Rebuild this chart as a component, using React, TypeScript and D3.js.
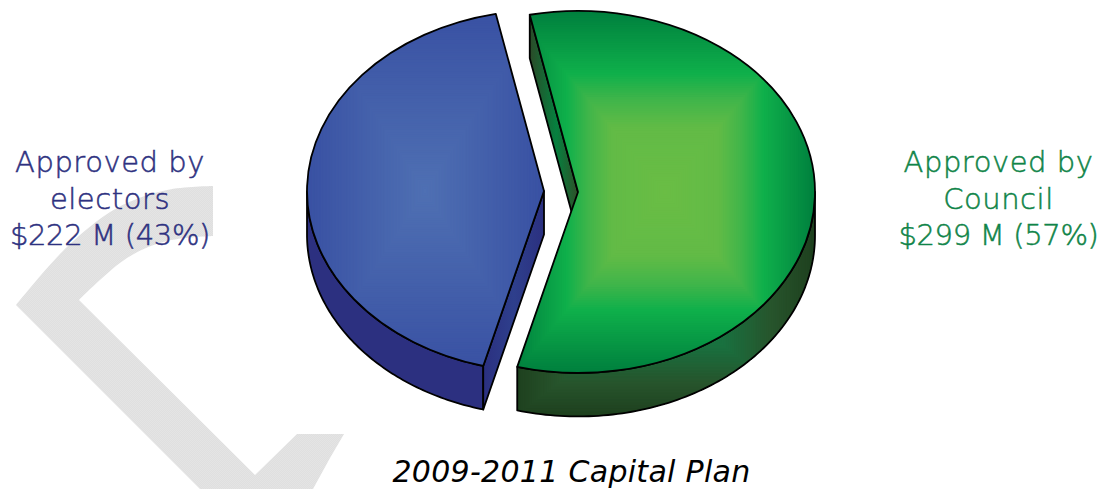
import React from "react";
import * as d3 from "d3";

// Capital plan funding, $ millions
const sources = ["Approved by Council", "Approved by electors"];
const amounts = [299, 222];
const shares = ["57%", "43%"];
const labelLines = [
  ["Approved by", "Council", "$299 M (57%)"],
  ["Approved by", "electors", "$222 M (43%)"],
];
const title = "2009-2011 Capital Plan";

const WIDTH = 1101;
const HEIGHT = 489;
const CX = 561;
const CY = 191.5;
const RX = 237;
const RY = 181;
const DEPTH = 43.5;
const EXPLODE = 17;
const FIRST_ANGLE = -0.205;
const LINE_TRACKING = [0.55, 0.55, -0.35];

const pie = d3
  .pie<number>()
  .sort(null)
  .startAngle(FIRST_ANGLE)
  .endAngle(FIRST_ANGLE + 2 * Math.PI);
const arcs = pie(amounts);
const topArc = d3.arc<d3.PieArcDatum<number>>().innerRadius(0).outerRadius(RX);
const outline = d3.line<[number, number]>();

// Backdrop emblem, a broad grey chevron running off the page
const emblemOuter: [number, number][] = [[16, 305], [67, 247], [117, 208], [167, 190], [213, 186]];
const emblemInner: [number, number][] = [[213, 236], [167, 241], [127, 258], [79, 300]];
const emblemLeg: [number, number][] = [[79, 300], [255, 475], [297, 434], [344, 434]];
const emblemFoot: [number, number][] = [[344, 434], [330, 458], [313, 489], [200, 489], [16, 305]];
const smooth = d3.line<[number, number]>().curve(d3.curveCatmullRom);

const greenTop = d3
  .scaleLinear<string>()
  .domain([0, 0.36, 0.52, 0.66, 1])
  .range(["#6abd45", "#62bb46", "#3fb54a", "#0fb04b", "#00803e"]);
const greenSide = d3
  .scaleLinear<string>()
  .domain([0, 0.4, 0.72, 1])
  .range(["#0a8040", "#19703f", "#27542c", "#1e401e"]);
const blueTop = d3.scaleLinear<string>().domain([0, 1]).range(["#4f70b3", "#3951a3"]);

const levels = d3.range(1, 0, -1 / 80);

function point(a: number, ox: number, oy: number, dz = 0): [number, number] {
  return [ox + RX * Math.sin(a), oy - RY * Math.cos(a) + dz];
}

// Curved rim of a slice between two pie angles, extruded downward
function rimPath(a0: number, a1: number, ox: number, oy: number): string {
  const ts = d3.range(0, 1.0001, 1 / 90).map((t) => a0 + (a1 - a0) * t);
  const upper = ts.map((a) => point(a, ox, oy));
  const lower = ts.map((a) => point(a, ox, oy, DEPTH)).reverse();
  return outline([...upper, ...lower])! + "Z";
}

// Flat cut face along a slice's starting radius
function cutPath(a: number, ox: number, oy: number): string {
  const rim = point(a, ox, oy);
  return (
    outline([
      [ox, oy],
      rim,
      [rim[0], rim[1] + DEPTH],
      [ox, oy + DEPTH],
    ])! + "Z"
  );
}

type BoxFillProps = {
  id: string;
  x: number;
  y: number;
  hw: number;
  hh: number;
  color: (t: number) => string;
};

// Box-shaped shading: nested rectangles stepping in from the rim colour
function BoxFill({ id, x, y, hw, hh, color }: BoxFillProps) {
  return (
    <g clipPath={`url(#${id})`}>
      {levels.map((t) => (
        <rect key={t} x={x - hw * t} y={y - hh * t} width={2 * hw * t} height={2 * hh * t} fill={color(t)} />
      ))}
    </g>
  );
}

export default function App() {
  const [green, blue] = arcs;
  const offset = (d: d3.PieArcDatum<number>) => {
    const mid = (d.startAngle + d.endAngle) / 2;
    return [CX + EXPLODE * Math.sin(mid), CY - EXPLODE * Math.cos(mid)];
  };
  const [gx, gy] = offset(green);
  const [bx, by] = offset(blue);
  const scaleY = `scale(1,${RY / RX})`;
  const strokeProps = { stroke: "#000", strokeWidth: 1.8, strokeLinejoin: "round" as const };

  const greenRim = rimPath(Math.PI / 2, green.endAngle, gx, gy);
  const blueRim = rimPath(blue.startAngle, (3 * Math.PI) / 2, bx, by);
  const greenCut = cutPath(green.startAngle, gx, gy);
  const blueCut = cutPath(blue.startAngle, bx, by);
  const greenFace = topArc(green)!;
  const blueFace = topArc(blue)!;

  return (
    <svg
      width={WIDTH}
      height={HEIGHT}
      viewBox={`0 0 ${WIDTH} ${HEIGHT}`}
      style={{ position: "absolute", left: 0, top: 0, background: "#fff" }}
      role="img"
      aria-label={`${title}: ${sources[0]} ${shares[0]}, ${sources[1]} ${shares[1]}`}
    >
      <defs>
        <pattern id="weave" width={2} height={2} patternUnits="userSpaceOnUse">
          <rect width={2} height={2} fill="#dfdfdf" />
          <rect width={1} height={1} fill="#e4e4e4" />
          <rect x={1} y={1} width={1} height={1} fill="#e4e4e4" />
        </pattern>
        <linearGradient id="greenCutFill" x1="0" x2="1" y1="0" y2="0">
          <stop offset="0" stopColor="#2b4a28" />
          <stop offset="0.55" stopColor="#06803f" />
          <stop offset="1" stopColor="#2f5028" />
        </linearGradient>
        <linearGradient id="blueCutFill" x1="0" x2="1" y1="0" y2="0">
          <stop offset="0" stopColor="#2b3080" />
          <stop offset="0.5" stopColor="#2e3f8c" />
          <stop offset="1" stopColor="#2b3080" />
        </linearGradient>
        <clipPath id="greenFaceClip">
          <path d={greenFace} transform={`translate(${gx},${gy}) ${scaleY}`} />
        </clipPath>
        <clipPath id="blueFaceClip">
          <path d={blueFace} transform={`translate(${bx},${by}) ${scaleY}`} />
        </clipPath>
        <clipPath id="greenRimClip">
          <path d={greenRim} />
        </clipPath>
      </defs>

      <path
        fill="url(#weave)"
        d={
          smooth(emblemOuter)! +
          "L" +
          smooth(emblemInner)!.slice(1) +
          "L" +
          outline(emblemLeg)!.slice(1) +
          "L" +
          outline(emblemFoot)!.slice(1) +
          "Z"
        }
      />

      {/* Blue slice */}
      <path d={blueRim} fill="#2c3080" {...strokeProps} />
      <path d={blueCut} fill="url(#blueCutFill)" {...strokeProps} />
      <BoxFill id="blueFaceClip" x={425} y={191} hw={119} hh={181} color={blueTop} />
      <path
        d={blueFace}
        transform={`translate(${bx},${by}) ${scaleY}`}
        fill="none"
        vectorEffect="non-scaling-stroke"
        {...strokeProps}
      />

      {/* Green slice */}
      <path d={greenCut} fill="url(#greenCutFill)" {...strokeProps} />
      <BoxFill id="greenRimClip" x={665} y={300} hw={150} hh={117} color={greenSide} />
      <path d={greenRim} fill="none" {...strokeProps} />
      <BoxFill id="greenFaceClip" x={665} y={192} hw={150} hh={181} color={greenTop} />
      <path
        d={greenFace}
        transform={`translate(${gx},${gy}) ${scaleY}`}
        fill="none"
        vectorEffect="non-scaling-stroke"
        {...strokeProps}
      />

      {/* Slice captions: the extra-light face, thickened a touch with a hairline */}
      <g fontFamily="'DejaVu Sans'" fontWeight={200} fontSize={29} strokeWidth={0.5} textAnchor="middle">
        {labelLines[1].map((line, i) => (
          <text key={line} x={110} y={172 + i * 36.5} fill="#2e3180" stroke="#2e3180" letterSpacing={LINE_TRACKING[i]}>
            {line}
          </text>
        ))}
        {labelLines[0].map((line, i) => (
          <text key={line} x={998.5} y={172 + i * 36.5} fill="#0f8448" stroke="#0f8448" letterSpacing={LINE_TRACKING[i]}>
            {line}
          </text>
        ))}
      </g>

      <text
        x={571.5}
        y={482}
        textAnchor="middle"
        fontFamily="'DejaVu Sans'"
        fontStyle="italic"
        fontSize={30}
        letterSpacing={0.3}
        fill="#000"
      >
        {title}
      </text>
    </svg>
  );
}
